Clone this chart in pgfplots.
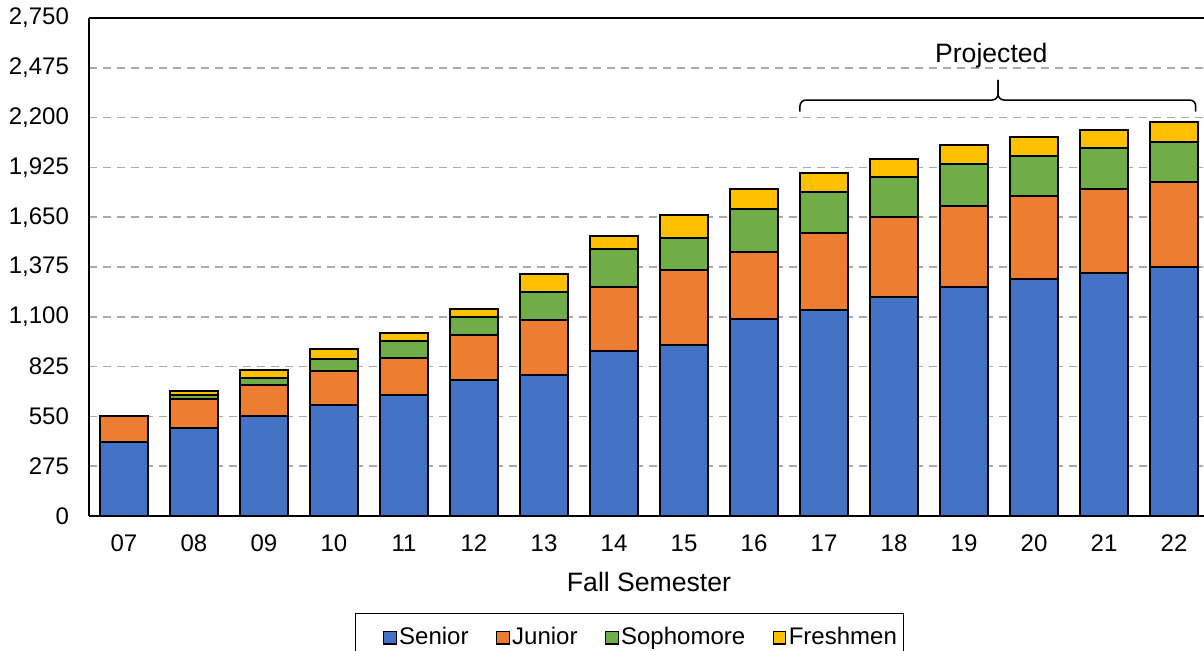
\documentclass[border=0pt]{standalone}
\usepackage{pgfplots}
\pgfplotsset{compat=1.18}
\usepackage{fontspec}
\setmainfont{Liberation Sans}
\definecolor{cSen}{HTML}{4472C4}
\definecolor{cJun}{HTML}{ED7D31}
\definecolor{cSop}{HTML}{70AD47}
\definecolor{cFre}{HTML}{FFC000}
\definecolor{cGrid}{RGB}{170,170,170}
\newcommand{\tf}{\fontsize{12pt}{14pt}\selectfont}
\newcommand{\lf}{\fontsize{13.3pt}{15pt}\selectfont}
\begin{document}
\begin{tikzpicture}
\begin{axis}[
  scale only axis,
  width=560pt, height=249pt,
  xmin=-0.5, xmax=15.5,
  ymin=0, ymax=2750,
  ybar stacked,
  bar width=0.686,
  axis y line*=left,
  axis x line*=box,
  axis line style={black, line width=1pt},
  xtick={0,...,15},
  xticklabels={07,08,09,10,11,12,13,14,15,16,17,18,19,20,21,22},
  ytick={0,275,550,825,1100,1375,1650,1925,2200,2475,2750},
  major tick length=0pt,
  /pgf/number format/assume math mode=true,
  /pgf/number format/1000 sep={,},
  ticklabel style={font=\tf, text=black},
  yticklabel style={xshift=-6.5pt},
  xticklabel style={yshift=-6pt},
  ymajorgrids,
  grid style={cGrid, line width=0.75pt, dash pattern=on 4pt off 3pt},
  xlabel={Fall Semester},
  xlabel style={font=\lf, at={(axis description cs:0.5,-0.1325)}, anchor=center},
  legend columns=4,
  legend style={at={(axis description cs:0.2375,-0.1948)}, anchor=north west,
    draw=black, line width=0.6pt, font=\tf, inner xsep=2pt, inner ysep=5pt,
    nodes={inner xsep=1.2pt},
    /tikz/every even column/.append style={column sep=12.5pt}},
  legend image code/.code={\draw[#1, draw=black, line width=0.6pt] (0pt,-3.15pt) rectangle (6.3pt,3.15pt);},
  every axis plot/.append style={draw=black, line width=1pt},
]
\addplot[fill=cSen, legend image code/.code={\path (-11.5pt,0pt); \draw[##1, draw=black, line width=0.6pt] (0pt,-3.15pt) rectangle (6.3pt,3.15pt);}] coordinates {(0,409) (1,486) (2,552) (3,613) (4,666) (5,751) (6,779) (7,911) (8,944) (9,1090) (10,1139) (11,1209) (12,1266) (13,1309) (14,1344) (15,1375)};
\addplot[fill=cJun] coordinates {(0,143) (1,158) (2,173) (3,188) (4,206) (5,247) (6,302) (7,355) (8,414) (9,366) (10,425) (11,440) (12,447) (13,458) (14,463) (15,468)};
\addplot[fill=cSop] coordinates {(0,0) (1,22) (2,37) (3,66) (4,96) (5,99) (6,154) (7,210) (8,175) (9,241) (10,225) (11,223) (12,229) (13,223) (14,223) (15,224)};
\addplot[fill=cFre] coordinates {(0,0) (1,23) (2,43) (3,53) (4,41) (5,48) (6,103) (7,69) (8,131) (9,109) (10,105) (11,101) (12,107) (13,103) (14,103) (15,107)};
\legend{Senior, Junior, Sophomore, Freshmen}
\draw[line width=0.75pt, black, rounded corners=3pt]
  (axis cs:9.657,2233) -- (axis cs:9.657,2297) -- (axis cs:12.486,2297) -- (axis cs:12.486,2408);
\draw[line width=0.75pt, black, rounded corners=3pt]
  (axis cs:15.31,2233) -- (axis cs:15.31,2297) -- (axis cs:12.486,2297) -- (axis cs:12.486,2408);
\node[font=\lf, anchor=center] at (axis cs:12.39,2540) {Projected};
\coordinate (O) at (rel axis cs:0,0);
\end{axis}
\pgfresetboundingbox
\path[use as bounding box] ([shift={(-44.5pt,-67.5pt)}]O) rectangle ([shift={(557.5pt,258pt)}]O);
\end{tikzpicture}
\end{document}
